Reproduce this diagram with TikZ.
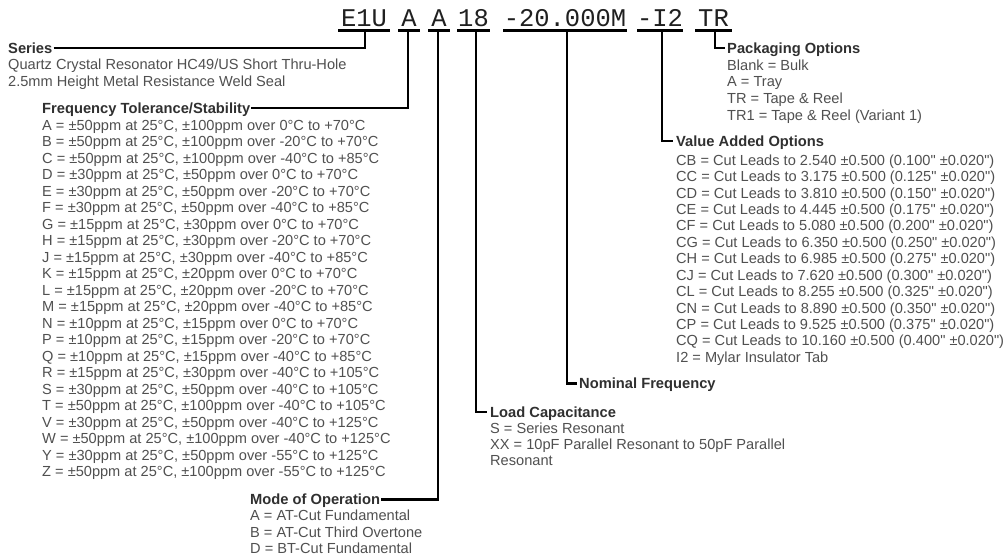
\documentclass[tikz,border=0pt]{standalone}
\usepackage{fontspec}
\setmainfont{Liberation Sans}[Ligatures=TeXOff]
\newfontfamily\codefont{Liberation Mono}
\definecolor{bodygray}{HTML}{505050}
\definecolor{hdrgray}{HTML}{303030}
\definecolor{codegray}{HTML}{202020}
\begin{document}
\begin{tikzpicture}[x=1pt,y=-1pt,
  body/.style={anchor=base west, inner sep=0pt, font=\fontsize{14.6}{16.5}\selectfont, text=bodygray},
  hdr/.style={anchor=base west, inner sep=0pt, text height=10.5pt, text depth=0pt, font=\fontsize{14.7}{16.5}\selectfont\bfseries, text=hdrgray},
  code/.style={anchor=base, inner sep=0pt, font=\codefont\fontsize{25.5}{26}\selectfont, text=codegray},
  uline/.style={line width=2.2pt, draw=black},
  conn/.style={line width=2.6pt, draw=black}]
\fill[white] (0,0) rectangle (1007,556);
\useasboundingbox (0,0) rectangle (1007,556);

% part number code
\node[code] (cE) at (364,27) {E1U};
\node[code] (cA1) at (409,27) {A};
\node[code] (cA2) at (439,27) {A};
\node[code] (c18) at (473.5,27) {18};
\node[code] (cF) at (565,27) {-20.000M};
\node[code] (cI) at (660,27) {-I2};
\node[code] (cT) at (713.5,27) {TR};
\draw[uline] (338,30.5) -- (390,30.5);
\draw[uline] (398,30.5) -- (420,30.5);
\draw[uline] (428,30.5) -- (450,30.5);
\draw[uline] (457,30.5) -- (490,30.5);
\draw[uline] (503,30.5) -- (627,30.5);
\draw[uline] (637,30.5) -- (683,30.5);
\draw[uline] (695,30.5) -- (732,30.5);
\coordinate (dE) at (365,30.5);
\coordinate (dA1) at (408,30.5);
\coordinate (dA2) at (438,30.5);
\coordinate (d18) at (476,30.5);
\coordinate (dF) at (567,30.5);
\coordinate (dI) at (662,30.5);
\coordinate (dT) at (715,30.5);

% Series
\node[hdr] (ser) at (8,53.3) {Series};
\node[body] (ser1) at (8,69.8) {Quartz Crystal Resonator HC49/US Short Thru-Hole};
\node[body] (ser2) at (8,86.3) {2.5mm Height Metal Resistance Weld Seal};
\draw[conn] ([xshift=1pt]ser.east) -| (dE);

% Frequency tolerance
\node[hdr] (frq) at (42,113.3) {Frequency Tolerance/Stability};
\draw[conn] ([xshift=1pt]frq.east) -| (dA1);
\foreach \t [count=\i from 0] in {
{A = ±50ppm at 25°C, ±100ppm over 0°C to +70°C},
{B = ±50ppm at 25°C, ±100ppm over -20°C to +70°C},
{C = ±50ppm at 25°C, ±100ppm over -40°C to +85°C},
{D = ±30ppm at 25°C, ±50ppm over 0°C to +70°C},
{E = ±30ppm at 25°C, ±50ppm over -20°C to +70°C},
{F = ±30ppm at 25°C, ±50ppm over -40°C to +85°C},
{G = ±15ppm at 25°C, ±30ppm over 0°C to +70°C},
{H = ±15ppm at 25°C, ±30ppm over -20°C to +70°C},
{J = ±15ppm at 25°C, ±30ppm over -40°C to +85°C},
{K = ±15ppm at 25°C, ±20ppm over 0°C to +70°C},
{L = ±15ppm at 25°C, ±20ppm over -20°C to +70°C},
{M = ±15ppm at 25°C, ±20ppm over -40°C to +85°C},
{N = ±10ppm at 25°C, ±15ppm over 0°C to +70°C},
{P = ±10ppm at 25°C, ±15ppm over -20°C to +70°C},
{Q = ±10ppm at 25°C, ±15ppm over -40°C to +85°C},
{R = ±15ppm at 25°C, ±30ppm over -40°C to +105°C},
{S = ±30ppm at 25°C, ±50ppm over -40°C to +105°C},
{T = ±50ppm at 25°C, ±100ppm over -40°C to +105°C},
{V = ±30ppm at 25°C, ±50ppm over -40°C to +125°C},
{W = ±50ppm at 25°C, ±100ppm over -40°C to +125°C},
{Y = ±30ppm at 25°C, ±50ppm over -55°C to +125°C},
{Z = ±50ppm at 25°C, ±100ppm over -55°C to +125°C}}
  \node[body] (f\i) at ({42},{130.3+16.5*\i}) {\t};

% Mode of operation
\node[hdr] (mod) at (250,504.5) {Mode of Operation};
\draw[conn] ([xshift=1pt]mod.east) -| (dA2);
\node[body] (mod1) at (250,520.8) {A = AT-Cut Fundamental};
\node[body] (mod2) at (250,537.2) {B = AT-Cut Third Overtone};
\node[body] (mod3) at (250,553.5) {D = BT-Cut Fundamental};

% Load capacitance
\node[hdr] (lod) at (490,417.3) {Load Capacitance};
\draw[conn] (d18) |- ([xshift=-3pt]lod.west);
\node[body] (lod1) at (490,433.3) {S = Series Resonant};
\node[body] (lod2) at (490,449.3) {XX = 10pF Parallel Resonant to 50pF Parallel};
\node[body] (lod3) at (490,465.3) {Resonant};

% Nominal frequency
\node[hdr] (nom) at (579,388.8) {Nominal Frequency};
\draw[conn] (dF) |- ([xshift=-2pt]nom.west);

% Value added options
\node[hdr] (val) at (676,146.3) {Value Added Options};
\draw[conn] (dI) |- ([xshift=-3pt]val.west);
\foreach \t [count=\i from 0] in {
{CB = Cut Leads to 2.540 ±0.500 (0.100" ±0.020")},
{CC = Cut Leads to 3.175 ±0.500 (0.125" ±0.020")},
{CD = Cut Leads to 3.810 ±0.500 (0.150" ±0.020")},
{CE = Cut Leads to 4.445 ±0.500 (0.175" ±0.020")},
{CF = Cut Leads to 5.080 ±0.500 (0.200" ±0.020")},
{CG = Cut Leads to 6.350 ±0.500 (0.250" ±0.020")},
{CH = Cut Leads to 6.985 ±0.500 (0.275" ±0.020")},
{CJ = Cut Leads to 7.620 ±0.500 (0.300" ±0.020")},
{CL = Cut Leads to 8.255 ±0.500 (0.325" ±0.020")},
{CN = Cut Leads to 8.890 ±0.500 (0.350" ±0.020")},
{CP = Cut Leads to 9.525 ±0.500 (0.375" ±0.020")},
{CQ = Cut Leads to 10.160 ±0.500 (0.400" ±0.020")},
{I2 = Mylar Insulator Tab}}
  \node[body] (v\i) at ({676},{165.3+16.42*\i}) {\t};

% Packaging options
\node[hdr] (pak) at (727,53.3) {Packaging Options};
\draw[conn] (dT) |- ([xshift=-2pt]pak.west);
\node[body] (pak1) at (727,70.3) {Blank = Bulk};
\node[body] (pak2) at (727,86.9) {A = Tray};
\node[body] (pak3) at (727,103.5) {TR = Tape \& Reel};
\node[body] (pak4) at (727,120.1) {TR1 = Tape \& Reel (Variant 1)};
\end{tikzpicture}
\end{document}
